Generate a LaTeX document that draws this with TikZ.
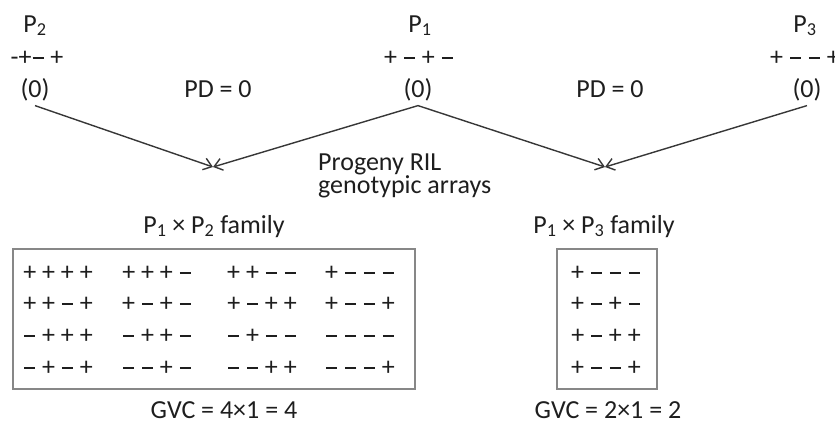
\documentclass[tikz,border=0pt]{standalone}
\usepackage{fontspec}
\setmainfont{Carlito}
\usetikzlibrary{arrows.meta}
\definecolor{inkgray}{RGB}{30,30,30}
\definecolor{linegray}{RGB}{55,55,55}
\definecolor{boxgray}{RGB}{135,135,135}
\newcommand{\Pn}[1]{P\textsubscript{#1}}
\newcommand{\mn}{\makebox[0.5em]{\rule[0.25em]{0.42em}{0.065em}}}

\begin{document}
\begin{tikzpicture}[x=1pt,y=-1pt,
  every node/.style={font=\fontsize{26}{23}\selectfont, text=inkgray, inner sep=0pt, anchor=base},
  zero/.style={outer sep=5pt},
  cross/.style={draw=linegray, line width=1.4pt, -{Straight Barb[length=8pt,width=12pt]}},
  famwin/.style={draw=boxgray, line width=1.8pt}]
\useasboundingbox (0,0) rectangle (835,424);

% Parents
\node (p2) at (35,32) {\Pn{2}};
\node (p1) at (420,32) {\Pn{1}};
\node (p3) at (805,32) {\Pn{3}};
\node (s2) at (37,65) {-+\mn{} +};
\node (s1) at (419,65) {+ \mn{} + \mn};
\node (s3) at (805,65) {+ \mn{} \mn{} +};
\node[zero] (zero2) at (35,97) {(0)};
\node[zero] (zero1) at (418,97) {(0)};
\node[zero] (zero3) at (807,97) {(0)};

% Distances
\node (pd12) at (218,97) {PD = 0};
\node (pd13) at (610,97) {PD = 0};

% Crosses
\coordinate (tip12) at (213,167);
\coordinate (tip13) at (605,167);
\draw[cross] (zero2.south) -- (tip12);
\draw[cross] (zero1.south) -- (tip12);
\draw[cross] (zero1.south) -- (tip13);
\draw[cross] (zero3.south) -- (tip13);

\node[anchor=base west, align=left] (prog) at (318,193) {Progeny RIL\\genotypic arrays};

% Families
\node (fam12) at (214,233) {\Pn{1} × \Pn{2} family};
\node (fam13) at (604,233) {\Pn{1} × \Pn{3} family};
\draw[famwin] (13,249) rectangle (415,389);
\draw[famwin] (557,249) rectangle (657,389);

\foreach \y/\ga/\gb/\gc/\gd/\ge [count=\r] in {
  280/{+ + + +}/{+ + + \mn}/{+ + \mn{} \mn}/{+ \mn{} \mn{} \mn}/{+ \mn{} \mn{} \mn},
  311/{+ + \mn{} +}/{+ \mn{} + \mn}/{+ \mn{} + +}/{+ \mn{} \mn{} +}/{+ \mn{} + \mn},
  343/{\mn{} + + +}/{\mn{} + + \mn}/{\mn{} + \mn{} \mn}/{\mn{} \mn{} \mn{} \mn}/{+ \mn{} + +},
  375/{\mn{} + \mn{} +}/{\mn{} \mn{} + \mn}/{\mn{} \mn{} + +}/{\mn{} \mn{} \mn{} +}/{+ \mn{} \mn{} +}}{
  \node (a\r) at (58,\y) {\ga};
  \node (b\r) at (157,\y) {\gb};
  \node (c\r) at (262,\y) {\gc};
  \node (d\r) at (360,\y) {\gd};
  \node (e\r) at (606,\y) {\ge};
}

% Variance
\node (gvc12) at (224,418) {GVC = 4×1 = 4};
\node (gvc13) at (608,418) {GVC = 2×1 = 2};
\end{tikzpicture}
\end{document}
